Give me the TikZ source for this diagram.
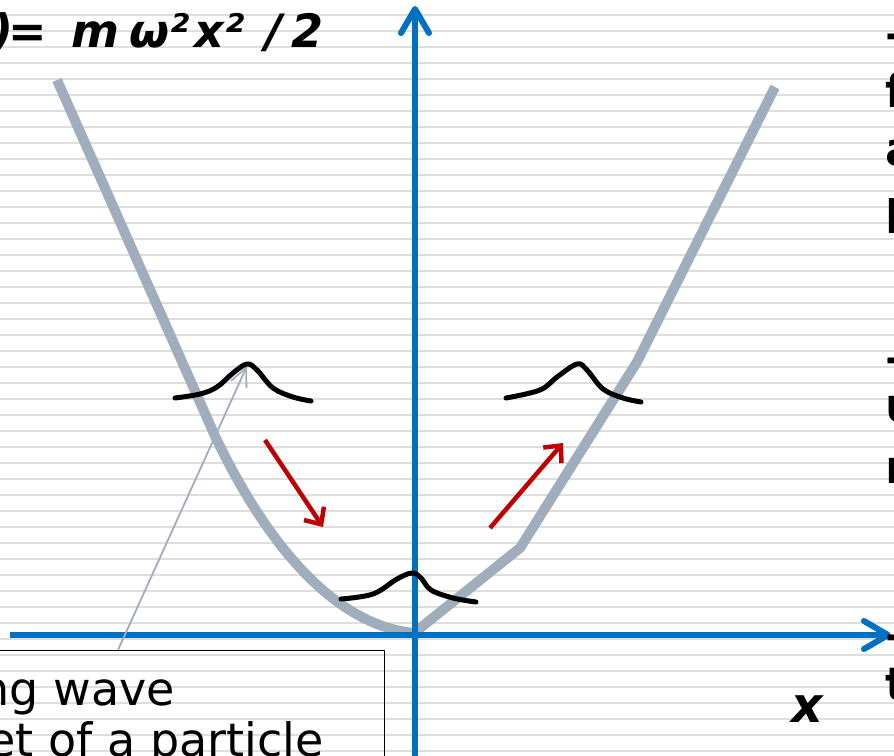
\documentclass[tikz,border=0pt]{standalone}
\usepackage{fontspec}
\setmainfont{DejaVu Sans}
\usetikzlibrary{arrows.meta}
\definecolor{axisblue}{RGB}{0,112,192}
\definecolor{paragray}{RGB}{160,173,189}
\definecolor{stripecol}{RGB}{222,222,222}
\definecolor{motionred}{RGB}{192,0,0}
\tikzset{
  stripeline/.style={stripecol, line width=2.2pt},
  axisline/.style={axisblue, line width=6pt, -{Straight Barb[length=24pt,width=28pt,round]}},
  parabolaline/.style={paragray, line width=10pt, line join=round},
  packetline/.style={black, line width=5pt, line cap=round, line join=round},
  motionarrow/.style={motionred, line width=4.5pt, -{Straight Barb[length=13pt,width=24pt]}},
  pointerline/.style={paragray, line width=1.8pt, -{Straight Barb[length=18pt,width=17pt]}},
  calloutbox/.style={draw=black, line width=1.3pt},
  formulatext/.style={font=\fontsize{46}{55}\selectfont\bfseries, inner sep=0pt},
  cuttext/.style={font=\fontsize{46}{55}\selectfont\bfseries, inner sep=0pt, anchor=base west},
  labeltext/.style={font=\fontsize{46}{52}\selectfont, inner sep=0pt, anchor=base east}
}
\newcommand{\glyphat}[2]{\makebox[0pt][l]{\hspace*{#1pt}#2}}
\begin{document}
\begin{tikzpicture}[x=1pt, y=-1pt]
\useasboundingbox (0,0) rectangle (894,755);
\clip (0,0) rectangle (894,755);
\fill[white] (0,0) rectangle (894,755);
% background stripes
\foreach \k in {-1,...,46} {
  \draw[stripeline] (0,{15.3+16*\k}) -- (894,{15.3+16*\k});
}
% callout box
\node[calloutbox, minimum width=400pt, minimum height=130pt, anchor=north east] (callout) at (385,650) {};
\node[labeltext] (lblA) at (175,705) {ng wave};
\node[labeltext] (lblB) at (324,756) {et of a particle};
% parabola
\draw[parabolaline] (57,80) -- (215,436) .. controls (262,535) and (330,625) .. (414,633)
   -- (520,548) -- (637,362) -- (775,87);
% axes
\coordinate (ybot) at (415,760);
\coordinate (ytop) at (415,6);
\coordinate (xleft) at (10,635);
\coordinate (xright) at (891,635);
\draw[axisline] (ybot) -- (ytop);
\draw[axisline] (xleft) -- (xright);
% pointer from callout to packet
\coordinate (ptrfoot) at (118,650);
\coordinate (peakL) at (247,366);
\draw[pointerline] (ptrfoot) -- (peakL);
% wave packets
\draw[packetline] plot[smooth, tension=0.6] coordinates {(175,398) (200,394) (217,387) (233,373) (247,364) (257,370) (273,388) (293,397) (311,401)};
\draw[packetline] plot[smooth, tension=0.6] coordinates {(341,599) (373,594) (397,579) (412,573) (421,578) (431,590) (453,598) (476,602)};
\draw[packetline] plot[smooth, tension=0.6] coordinates {(506,398) (540,390) (557,377) (577,364) (587,370) (603,389) (623,398) (641,402)};
% motion arrows
\coordinate (mAs) at (265,440);
\coordinate (mAe) at (323,527);
\coordinate (mBs) at (490,528);
\coordinate (mBe) at (563,443);
\draw[motionarrow] (mAs) -- (mAe);
\draw[motionarrow] (mBs) -- (mBe);
% formula
\node[formulatext, anchor=base west] (eqA) at (-8,47) {\itshape )\kern-5pt=};
\node[formulatext, anchor=base west] (eqB) at (71,47) {\itshape\glyphat{0}{m}\glyphat{58}{ω²}\glyphat{123}{x²}\glyphat{194}{/}\glyphat{220}{2}};
% x label
\node[formulatext, anchor=base west, font=\fontsize{49}{55}\selectfont\bfseries\itshape] (xlab) at (791,722) {x};
% cut-off text on the right
\node[cuttext] (r1) at (885,49) {–};
\node[cuttext] (r2) at (885,107) {f};
\node[cuttext] (r3) at (885,165) {a};
\node[cuttext] (r4) at (885,233) {l};
\node[cuttext] (r5) at (885,373) {–};
\node[cuttext] (r6) at (885,421) {u};
\node[cuttext] (r7) at (885,483) {r};
\node[cuttext] (r8) at (885,650) {–};
\node[cuttext] (r9) at (885,700) {t};
\end{tikzpicture}
\end{document}
